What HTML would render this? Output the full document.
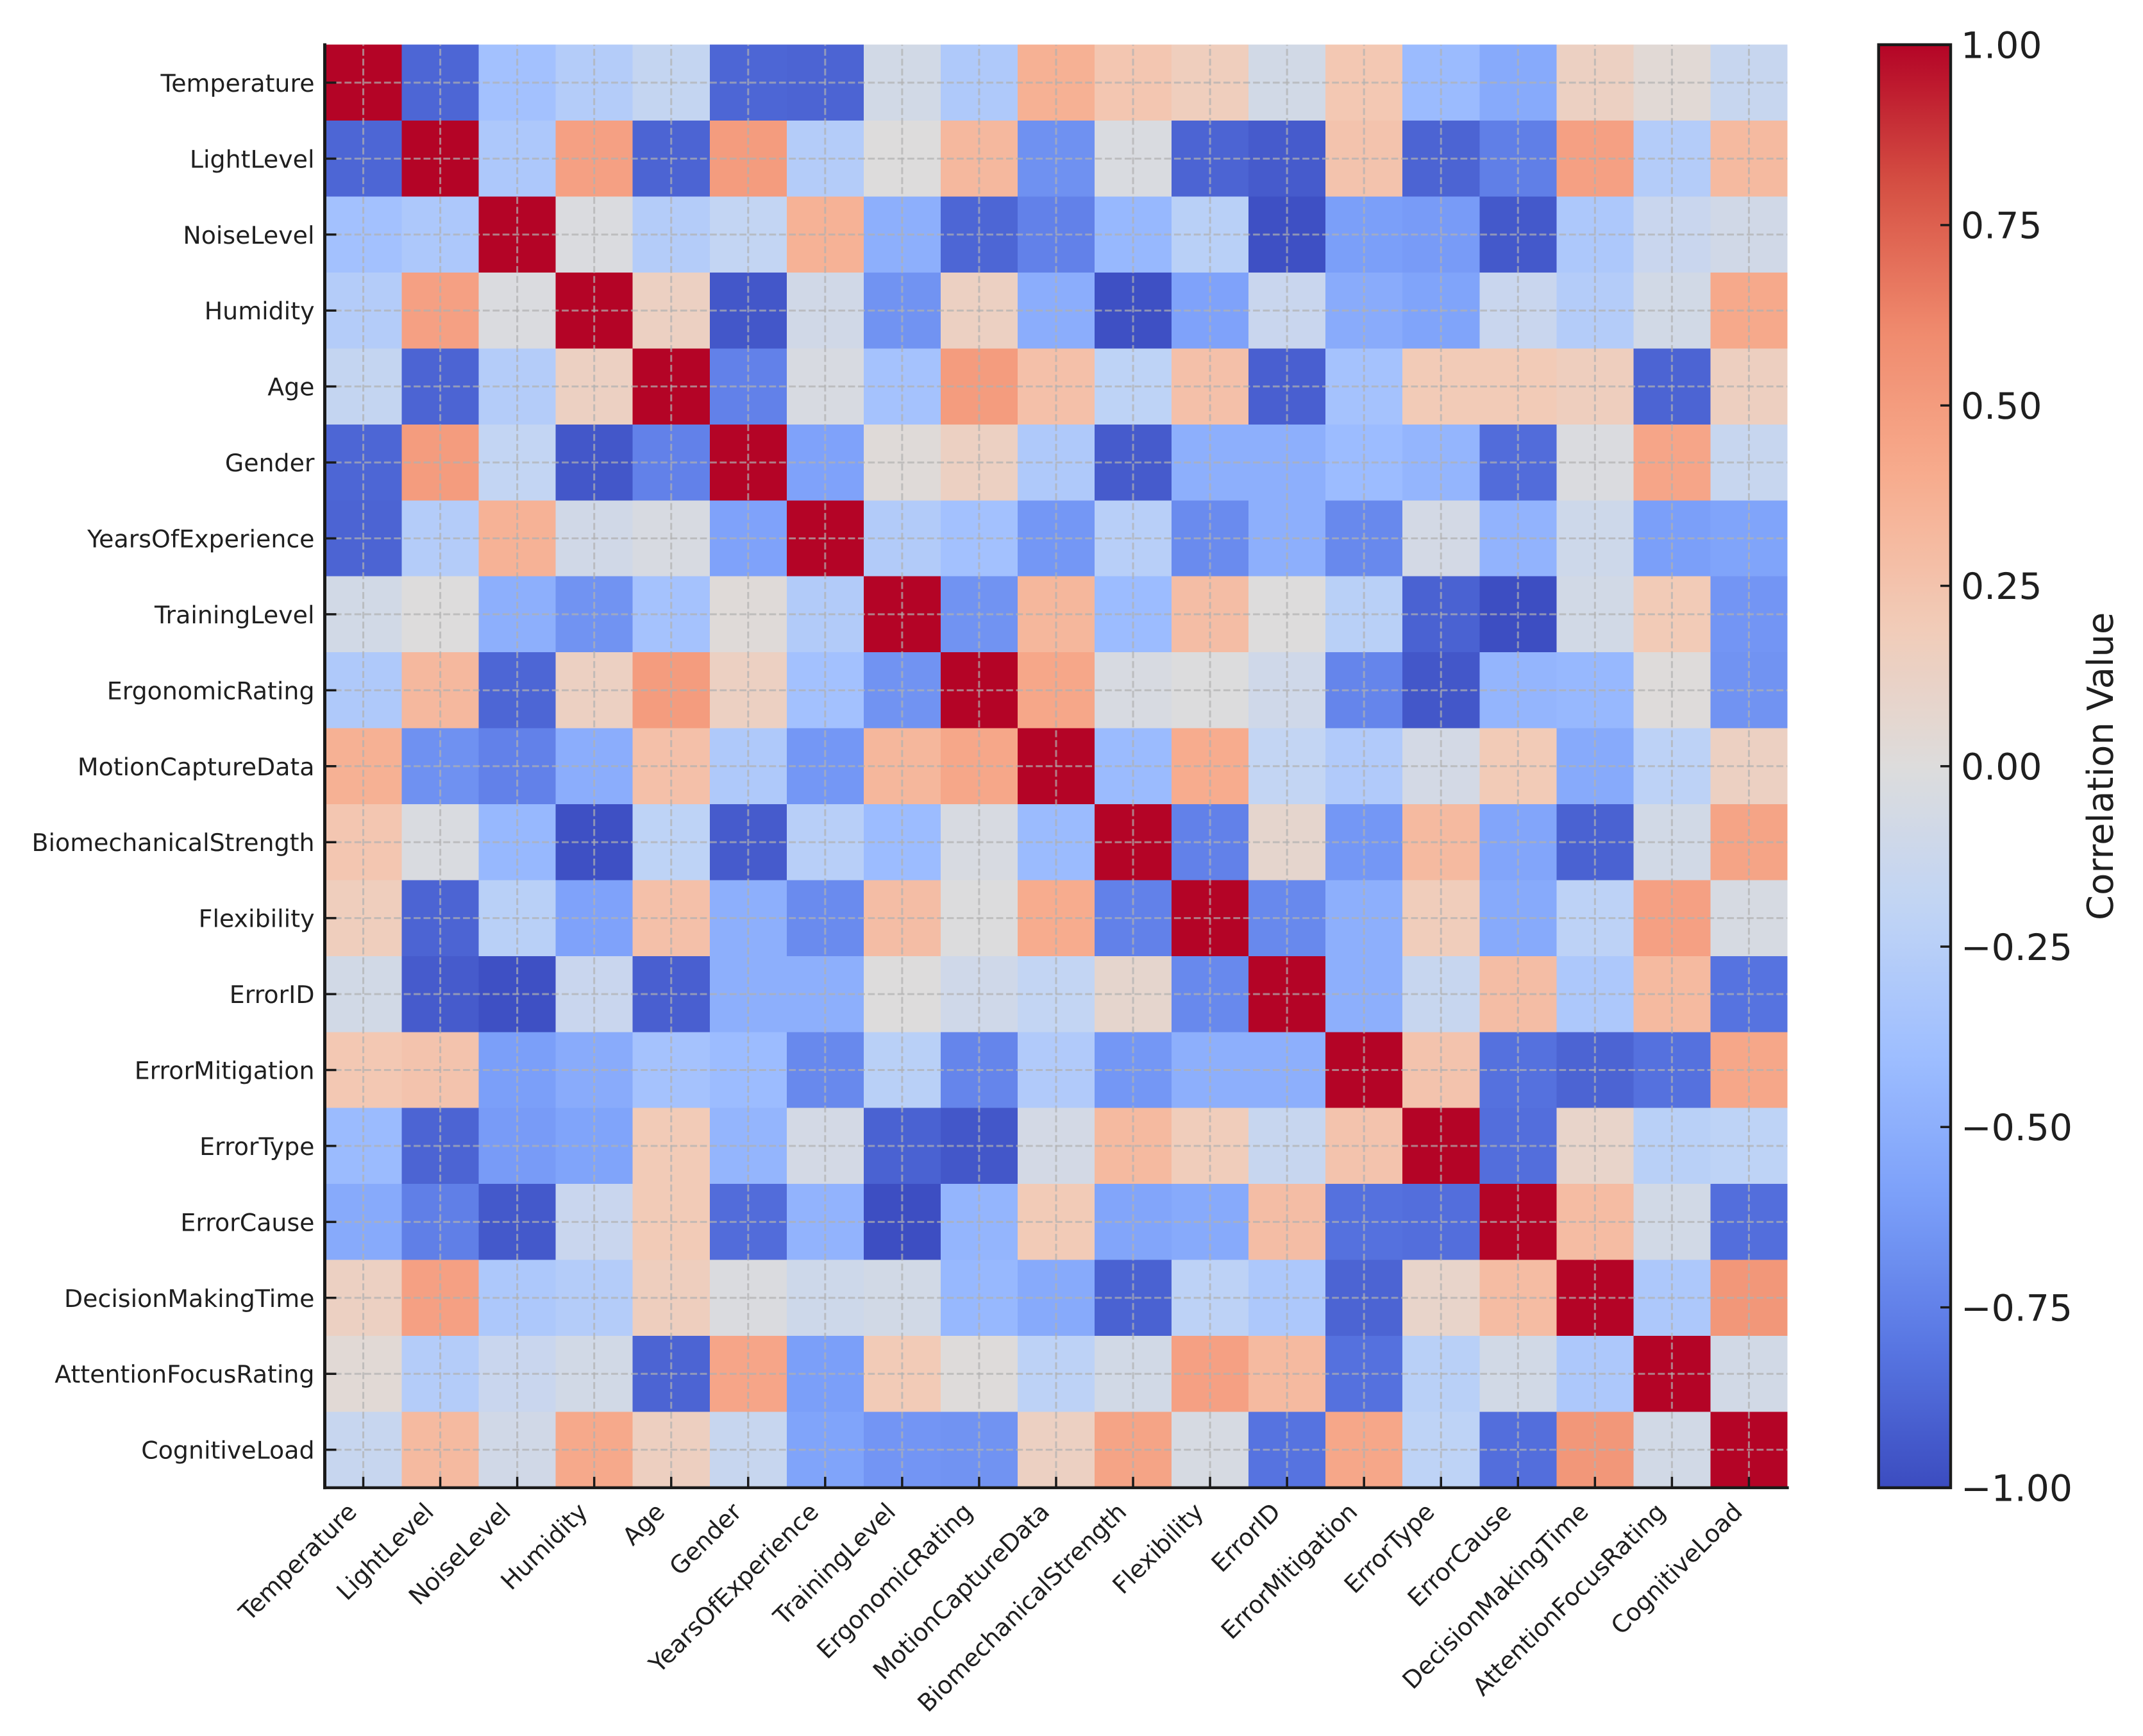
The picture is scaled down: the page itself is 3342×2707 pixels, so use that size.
<!DOCTYPE html>
<html lang="en">
<head>
<meta charset="utf-8">
<title>Correlation Heatmap</title>
<style>
  html, body { margin: 0; padding: 0; background: #ffffff; }
  body { width: 3342px; height: 2707px; overflow: hidden; }
  svg { display: block; }
  text { font-family: "DejaVu Sans", "Liberation Sans", sans-serif; fill: #1f1f1f; text-rendering: geometricPrecision; }
</style>
</head>
<body>
<svg id="chart" xmlns="http://www.w3.org/2000/svg" width="3342" height="2707" viewBox="0 0 3342 2707">
  <rect x="0" y="0" width="3342" height="2707" fill="#ffffff"></rect>
  <defs>
    <linearGradient id="cbGradient" x1="0" y1="1" x2="0" y2="0"></linearGradient>
  </defs>
  <g id="cells" shape-rendering="crispEdges"></g>
  <g id="grid"></g>
  <g id="axes"></g>
  <g id="colorbar"></g>
</svg>
<script>
const variables = ['Temperature','LightLevel','NoiseLevel','Humidity','Age','Gender','YearsOfExperience','TrainingLevel','ErgonomicRating','MotionCaptureData','BiomechanicalStrength','Flexibility','ErrorID','ErrorMitigation','ErrorType','ErrorCause','DecisionMakingTime','AttentionFocusRating','CognitiveLoad'];

const correlations = [
  [1,-.88,-.37,-.27,-.17,-.88,-.89,-.08,-.30,.37,.23,.17,-.08,.22,-.42,-.53,.14,.04,-.15],
  [-.88,1,-.31,.47,-.89,.50,-.27,0,.32,-.67,-.03,-.89,-.93,.25,-.89,-.76,.47,-.27,.31],
  [-.37,-.31,1,-.02,-.27,-.18,.36,-.50,-.88,-.75,-.44,-.24,-.98,-.60,-.62,-.94,-.31,-.14,-.09],
  [-.27,.47,-.02,1,.14,-.95,-.09,-.66,.14,-.51,-.98,-.58,-.14,-.52,-.57,-.14,-.27,-.08,.42],
  [-.17,-.89,-.27,.14,1,-.75,-.04,-.36,.50,.27,-.21,.27,-.91,-.36,.20,.20,.16,-.89,.15],
  [-.88,.50,-.18,-.95,-.75,1,-.58,.02,.14,-.30,-.93,-.50,-.50,-.41,-.46,-.85,-.02,.44,-.15],
  [-.89,-.27,.36,-.09,-.04,-.58,1,-.28,-.37,-.64,-.25,-.70,-.50,-.71,-.07,-.47,-.11,-.60,-.57],
  [-.08,0,-.50,-.66,-.36,.02,-.28,1,-.66,.33,-.41,.29,0,-.24,-.90,-.99,-.08,.20,-.65],
  [-.30,.32,-.88,.14,.50,.14,-.37,-.66,1,.43,-.04,-.01,-.10,-.73,-.95,-.46,-.44,.01,-.66],
  [.37,-.67,-.75,-.51,.27,-.30,-.64,.33,.43,1,-.42,.40,-.18,-.29,-.07,.20,-.53,-.22,.14],
  [.23,-.03,-.44,-.98,-.21,-.93,-.25,-.41,-.04,-.42,1,-.75,.08,-.64,.31,-.56,-.90,-.08,.45],
  [.17,-.89,-.24,-.58,.27,-.50,-.70,.29,-.01,.40,-.75,1,-.71,-.50,.18,-.53,-.22,.47,-.05],
  [-.08,-.93,-.98,-.14,-.91,-.50,-.50,0,-.10,-.18,.08,-.71,1,-.50,-.15,.29,-.31,.31,-.82],
  [.22,.25,-.60,-.52,-.36,-.41,-.71,-.24,-.73,-.29,-.64,-.50,-.50,1,.25,-.83,-.89,-.83,.43],
  [-.42,-.89,-.62,-.57,.20,-.46,-.07,-.90,-.95,-.07,.31,.18,-.15,.25,1,-.84,.10,-.24,-.21],
  [-.53,-.76,-.94,-.14,.20,-.85,-.47,-.99,-.46,.20,-.56,-.53,.29,-.83,-.84,1,.30,-.08,-.84],
  [.14,.47,-.31,-.27,.16,-.02,-.11,-.08,-.44,-.53,-.90,-.22,-.31,-.89,.10,.30,1,-.31,.53],
  [.04,-.27,-.14,-.08,-.89,.44,-.60,.20,.01,-.22,-.08,.47,.31,-.83,-.24,-.08,-.31,1,-.08],
  [-.15,.31,-.09,.42,.15,-.15,-.57,-.65,-.66,.14,.45,-.05,-.82,.43,-.21,-.84,.53,-.08,1]
];

const colorbarTicks = [1, 0.75, 0.5, 0.25, 0, -0.25, -0.5, -0.75, -1];
const colorbarTitle = 'Correlation Value';

const coolwarmStops = ['#3b4cc0','#5977e3','#7b9ff9','#9ebeff','#c0d4f5','#dddcdc','#f2cbb7','#f7ac8e','#f08b6e','#d65244','#b40426'];

const NS = 'http://www.w3.org/2000/svg';
const plot = { left: 506.5, top: 69.7, cellW: 120.05, cellH: 118.43 };
plot.right = plot.left + plot.cellW * variables.length;
plot.bottom = plot.top + plot.cellH * variables.length;
const cb = { left: 2929.7, right: 3042, top: 69.7, bottom: 2319.9 };
const INK = '#1a1a1a';
const TICK_FONT = 37.9;
const CB_FONT = 56.8;

function xEdge(i) { return plot.left + i * plot.cellW; }
function yEdge(i) { return plot.top + i * plot.cellH; }
function xCenter(i) { return xEdge(i + 0.5); }
function yCenter(i) { return yEdge(i + 0.5); }
function cbY(v) { return cb.bottom - (v + 1) / 2 * (cb.bottom - cb.top); }

function hexToRgb(h) {
  return [parseInt(h.slice(1, 3), 16), parseInt(h.slice(3, 5), 16), parseInt(h.slice(5, 7), 16)];
}
function coolwarm(v) {
  const t = Math.min(1, Math.max(0, (v + 1) / 2)) * (coolwarmStops.length - 1);
  const i = Math.min(coolwarmStops.length - 2, Math.floor(t));
  const f = t - i;
  const a = hexToRgb(coolwarmStops[i]);
  const b = hexToRgb(coolwarmStops[i + 1]);
  return 'rgb(' + a.map(function (c, k) { return Math.round(c + (b[k] - c) * f); }).join(',') + ')';
}
function slug(s) { return s.replace(/([a-z])([A-Z])/g, '$1-$2').toLowerCase(); }
function formatTick(v) { return (v < 0 ? '\u2212' : '') + Math.abs(v).toFixed(2); }
function make(tag, parent, attrs) {
  const el = document.createElementNS(NS, tag);
  Object.keys(attrs).forEach(function (k) { el.setAttribute(k, attrs[k]); });
  parent.appendChild(el);
  return el;
}

const cellsG = document.getElementById('cells');
const gridG = document.getElementById('grid');
const axesG = document.getElementById('axes');
const cbG = document.getElementById('colorbar');
const gradient = document.getElementById('cbGradient');

// heatmap cells
correlations.forEach(function (row, r) {
  row.forEach(function (value, c) {
    const el = make('rect', cellsG, {
      x: xEdge(c), y: yEdge(r), width: plot.cellW, height: plot.cellH, fill: coolwarm(value)
    });
    
    
  });
});

// gridlines: vertical dash phase starts at the bottom, horizontal at the left
variables.forEach(function (name, i) {
  const v = make('line', gridG, {
    x1: xCenter(i), x2: xCenter(i), y1: plot.bottom, y2: plot.top,
    stroke: '#b0b0b0', 'stroke-opacity': 0.7, 'stroke-width': 3, 'stroke-dasharray': '10.75 4.65'
  });
  
  
  const h = make('line', gridG, {
    x1: plot.left, x2: plot.right, y1: yCenter(i), y2: yCenter(i),
    stroke: '#b0b0b0', 'stroke-opacity': 0.7, 'stroke-width': 3, 'stroke-dasharray': '10.75 4.65'
  });
  
  
});

// axis ticks and labels
variables.forEach(function (name, i) {
  const yt = make('line', axesG, {
    x1: plot.left, x2: plot.left + 18, y1: yCenter(i), y2: yCenter(i), stroke: INK, 'stroke-width': 3.5
  });
  
  

  const xt = make('line', axesG, {
    x1: xCenter(i), x2: xCenter(i), y1: plot.bottom, y2: plot.bottom - 17, stroke: INK, 'stroke-width': 3.5
  });
  
  

  const yl = make('text', axesG, {
    x: plot.left - 16, y: yCenter(i) + 14, 'text-anchor': 'end', 'font-size': TICK_FONT
  });
  yl.textContent = name;
  
  

  const lx = xCenter(i) - 8;
  const ly = plot.bottom + 40;
  const xl = make('text', axesG, {
    x: lx, y: ly, 'text-anchor': 'end', 'font-size': TICK_FONT,
    transform: 'rotate(-45 ' + lx + ' ' + ly + ')'
  });
  xl.textContent = name;
  
  
});

// spines
const leftSpine = make('line', axesG, {
  x1: plot.left, x2: plot.left, y1: plot.top - 2.2, y2: plot.bottom + 2.2, stroke: INK, 'stroke-width': 5
});


const bottomSpine = make('line', axesG, {
  x1: plot.left - 2.5, x2: plot.right + 2.2, y1: plot.bottom, y2: plot.bottom, stroke: INK, 'stroke-width': 4.5
});



// colorbar gradient comes from the same colormap
for (let s = 0; s <= 64; s++) {
  const stop = make('stop', gradient, {
    offset: (s / 64 * 100) + '%', 'stop-color': coolwarm(s / 32 - 1)
  });
  
  
}
const cbFill = make('rect', cbG, {
  x: cb.left, y: cb.top, width: cb.right - cb.left, height: cb.bottom - cb.top, fill: 'url(#cbGradient)'
});



colorbarTicks.forEach(function (v) {
  const y = cbY(v);
  if (Math.abs(v) < 1) {
    const t = make('line', cbG, {
      x1: cb.right - 16, x2: cb.right, y1: y, y2: y, stroke: INK, 'stroke-width': 3.5
    });
    
    
  }
  const l = make('text', cbG, {
    x: 3058, y: y + 20.7, 'font-size': CB_FONT
  });
  l.textContent = formatTick(v);
  
  
});

const cbFrame = make('rect', cbG, {
  x: cb.left, y: cb.top, width: cb.right - cb.left, height: cb.bottom - cb.top,
  fill: 'none', stroke: INK, 'stroke-width': 4.5
});



const titleX = 3295;
const titleY = (cb.top + cb.bottom) / 2;
const cbLabel = make('text', cbG, {
  x: titleX, y: titleY, 'text-anchor': 'middle', 'font-size': 56,
  transform: 'rotate(-90 ' + titleX + ' ' + titleY + ')'
});
cbLabel.textContent = colorbarTitle;


</script>
</body>
</html>
